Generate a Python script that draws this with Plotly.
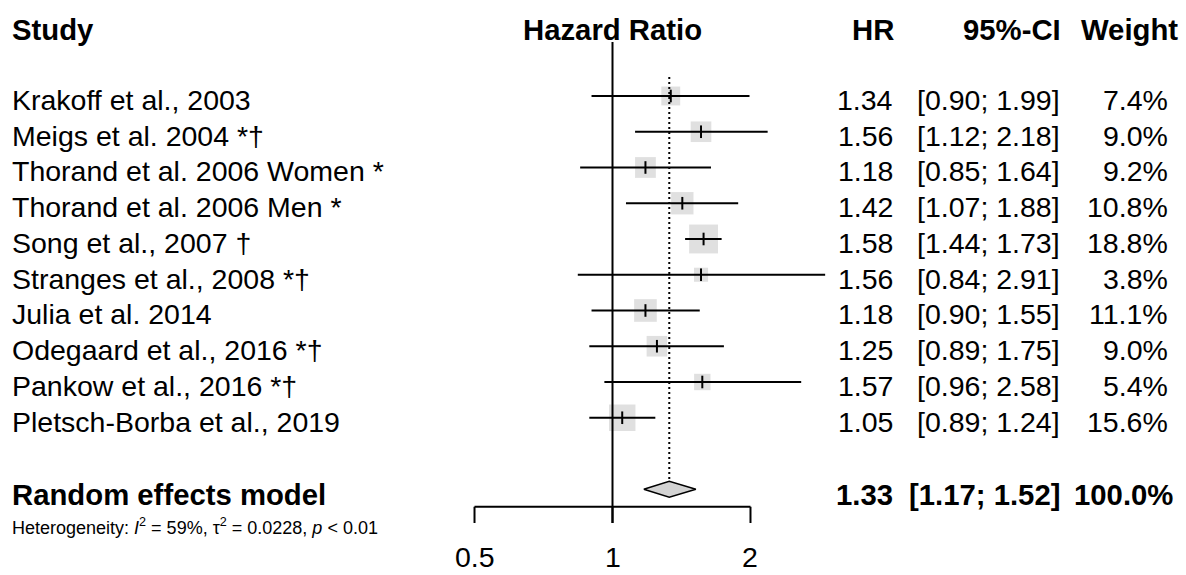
import numpy as np
import plotly.graph_objects as go

# ---------------- data ----------------
studies = [
    "Krakoff et al., 2003",
    "Meigs et al. 2004 *†",
    "Thorand et al. 2006 Women *",
    "Thorand et al. 2006 Men *",
    "Song et al., 2007 †",
    "Stranges et al., 2008 *†",
    "Julia et al. 2014",
    "Odegaard et al., 2016 *†",
    "Pankow et al., 2016 *†",
    "Pletsch-Borba et al., 2019",
]
hr = [1.34, 1.56, 1.18, 1.42, 1.58, 1.56, 1.18, 1.25, 1.57, 1.05]
ci_low = [0.90, 1.12, 0.85, 1.07, 1.44, 0.84, 0.90, 0.89, 0.96, 0.89]
ci_high = [1.99, 2.18, 1.64, 1.88, 1.73, 2.91, 1.55, 1.75, 2.58, 1.24]
weight = [7.4, 9.0, 9.2, 10.8, 18.8, 3.8, 11.1, 9.0, 5.4, 15.6]

pooled_label = "Random effects model"
pooled_hr = 1.33
pooled_low = 1.17
pooled_high = 1.52
pooled_weight = 100.0
het_i2 = "59%"
het_tau2 = "0.0228"
het_p = "&lt; 0.01"

tick_vals = [0.5, 1, 2]
tick_labels = ["0.5", "1", "2"]

headers = ["Study", "Hazard Ratio", "HR", "95%-CI", "Weight"]

# ---------------- layout constants ----------------
W, H = 1186, 575
FONT = "Liberation Sans, Arial, sans-serif"
FS = 28.5
FSB = 29.3
rows = list(range(1, len(studies) + 1))
pooled_row = len(studies) + 2
header_row = -0.9
axis_row = 12.49
tick_end_row = 12.944
het_row = 13.05
text_shift = -4


def px(x):
    return x / W


fig = go.Figure()

# squares (area proportional to weight)
fig.add_trace(go.Scatter(
    x=hr, y=rows, mode="markers",
    marker=dict(symbol="square", size=[6.2 * np.sqrt(w) + 2 for w in weight],
                color="#d3d3d3", line=dict(width=0)),
    hoverinfo="skip"))

# confidence interval lines
cx, cy = [], []
for l, u, r in zip(ci_low, ci_high, rows):
    cx += [l, u, None]
    cy += [r, r, None]
fig.add_trace(go.Scatter(x=cx, y=cy, mode="lines",
                         line=dict(color="black", width=2), hoverinfo="skip"))

# point-estimate ticks
fig.add_trace(go.Scatter(
    x=hr, y=rows, mode="markers",
    marker=dict(symbol="line-ns-open", size=9, color="black",
                line=dict(color="black", width=2)),
    hoverinfo="skip"))

# reference line at 1
fig.add_trace(go.Scatter(x=[1, 1], y=[-0.51, tick_end_row], mode="lines",
                         line=dict(color="black", width=2), hoverinfo="skip"))

# pooled dotted line
fig.add_trace(go.Scatter(x=[pooled_hr, pooled_hr], y=[0.47, pooled_row - 0.21],
                         mode="lines",
                         line=dict(color="black", width=2, dash="2px,3px"),
                         hoverinfo="skip"))

# diamond
dh = 0.22
fig.add_trace(go.Scatter(
    x=[pooled_low, pooled_hr, pooled_high, pooled_hr, pooled_low],
    y=[pooled_row, pooled_row - dh, pooled_row, pooled_row + dh, pooled_row],
    mode="lines", fill="toself", fillcolor="#d3d3d3",
    line=dict(color="black", width=1.5), hoverinfo="skip"))

# axis line and ticks
ax_x = [min(tick_vals), max(tick_vals), None]
ax_y = [axis_row, axis_row, None]
for v in tick_vals:
    ax_x += [v, v, None]
    ax_y += [axis_row, tick_end_row, None]
fig.add_trace(go.Scatter(x=ax_x, y=ax_y, mode="lines",
                         line=dict(color="black", width=2), hoverinfo="skip"))

ann = []


def txt(text, x, y, anchor, xref="paper", yref="y", yanchor="middle",
        bold=False, size=None, shift=text_shift):
    if size is None:
        size = FSB if bold else FS
    ann.append(dict(text=f"<b>{text}</b>" if bold else text, x=x, y=y,
                    xref=xref, yref=yref, xanchor=anchor, yanchor=yanchor,
                    showarrow=False, yshift=shift,
                    font=dict(family=FONT, size=size, color="black")))


# headers
txt(headers[0], px(10), header_row, "left", bold=True, shift=-1)
txt(headers[1], np.log10(1), header_row, "center", xref="x", bold=True, shift=-1)
txt(headers[2], px(896), header_row, "right", bold=True, shift=-1)
txt(headers[3], px(1063), header_row, "right", bold=True, shift=-1)
txt(headers[4], px(1180), header_row, "right", bold=True, shift=-1)

# study rows
for s, h, l, u, w, r in zip(studies, hr, ci_low, ci_high, weight, rows):
    txt(s, px(10), r, "left")
    txt(f"{h:.2f}", px(895), r, "right")
    txt(f"[{l:.2f}; {u:.2f}]", px(1062), r, "right")
    txt(f"{w:.1f}%", px(1170), r, "right")

# pooled row
txt(pooled_label, px(10), pooled_row, "left", bold=True, shift=-5)
txt(f"{pooled_hr:.2f}", px(895), pooled_row, "right", bold=True, shift=-5)
txt(f"[{pooled_low:.2f}; {pooled_high:.2f}]", px(1062), pooled_row, "right", bold=True, shift=-5)
txt(f"{pooled_weight:.1f}%", px(1175), pooled_row, "right", bold=True, shift=-5)

# heterogeneity
txt(f"Heterogeneity: <i>I</i><sup>2</sup> = {het_i2}, τ<sup>2</sup> = {het_tau2}, <i>p</i> {het_p}",
    px(10), het_row, "left", size=18, shift=0)

# tick labels
for v, lab in zip(tick_vals, tick_labels):
    txt(lab, np.log10(v), 0, "center", xref="x", yref="paper", yanchor="bottom", shift=0)

fig.update_layout(
    width=W, height=H,
    margin=dict(l=0, r=0, t=0, b=0),
    paper_bgcolor="white", plot_bgcolor="white",
    showlegend=False,
    annotations=ann,
    xaxis=dict(type="log", range=[-1.3362, 1.2511], visible=False, fixedrange=True),
    yaxis=dict(range=[14.399, -1.685], visible=False, fixedrange=True),
)

fig.write_html("out.html")
